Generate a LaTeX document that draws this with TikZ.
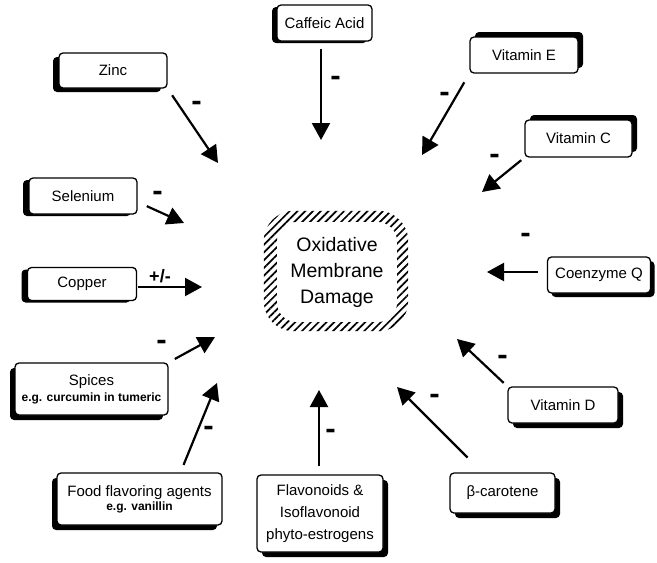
\documentclass[tikz,border=0pt]{standalone}
\usepackage{fontspec}
\usepackage{graphicx}
\setmainfont{Liberation Sans}
\usetikzlibrary{arrows.meta,shadows,patterns.meta,calc}

\newcommand\egfont{\bfseries\fontsize{12}{14}\selectfont}

\begin{document}
\begin{tikzpicture}[x=1pt,y=-1pt,
    box/.style={draw, line width=1.3pt, rounded corners=4pt, fill=white, inner sep=2pt,
      align=center, font=\fontsize{15}{17}\selectfont},
    shd/.style 2 args={drop shadow={shadow xshift=#1,shadow yshift=#2,fill=black,opacity=1}},
    arr/.style={line width=2.2pt, -{Triangle[length=17pt,width=18pt]}},
    minus/.style={font=\bfseries\fontsize{16}{16}\selectfont, inner sep=0pt}]
    \useasboundingbox (0,0) rectangle (657,563);

    % centre
    \node[align=center, minimum width=120pt, minimum height=100pt,
      font=\fontsize{19.5}{26}\selectfont] (damage) at (337,272) {Oxidative\\Membrane\\Damage};
    \fill[pattern={Lines[angle=45,distance=5.5pt,line width=1.7pt]}, even odd rule]
      [rounded corners=30pt] ($(damage.south west)+(-13,9)$) rectangle ($(damage.north east)+(11,-11)$)
      [rounded corners=20pt] (damage.south west) rectangle (damage.north east);

    % boxes
    \node[box, shd={-5pt}{-2pt}, minimum width=95pt, minimum height=36pt] (caffeic) at (324.5,23) {Caffeic Acid};
    \node[box, shd={-6pt}{-4pt}, minimum width=108pt, minimum height=35pt] (zinc) at (113,70.5) {Zinc};
    \node[box, shd={-6pt}{-2pt}, minimum width=108pt, minimum height=36pt] (selenium) at (83,196) {Selenium};
    \node[box, shd={-6pt}{-2pt}, minimum width=109pt, minimum height=33pt] (copper) at (82,284) {Copper};
    \node[box, shd={-5pt}{-5pt}, minimum width=153pt, minimum height=52pt] (spices) at (91.5,389)
      {Spices\\[-1pt]{\egfont e.g. curcumin in tumeric}};
    \node[box, shd={-5pt}{-5pt}, minimum width=165pt, minimum height=52pt] (food) at (139.5,499)
      {Food flavoring agents\\[-3pt]{\egfont e.g. vanillin}};
    \node[box, shd={5pt}{-5pt}, minimum width=126pt, minimum height=77pt,
      font=\fontsize{15}{22}\selectfont] (flav) at (320,513.5) {Flavonoids \&\\Isoflavonoid\\phyto-estrogens};
    \node[box, shd={5pt}{-5pt}, minimum width=105pt, minimum height=40pt] (beta) at (502.5,493) {β-carotene};
    \node[box, shd={5pt}{-5pt}, minimum width=110pt, minimum height=36pt] (vitD) at (563,405) {Vitamin D};
    \node[box, shd={4pt}{-4pt}, minimum width=103pt, minimum height=36pt] (coQ) at (599,275) {Coenzyme Q};
    \node[box, shd={5pt}{5pt}, minimum width=107pt, minimum height=37pt] (vitC) at (578.5,138.5) {Vitamin C};
    \node[box, shd={5pt}{5pt}, minimum width=108pt, minimum height=36pt] (vitE) at (524,55) {Vitamin E};

    % arrow tips
    \coordinate (cafT) at (321,140);
    \coordinate (zincT) at (218,163);
    \coordinate (selT) at (184,223);
    \coordinate (copT) at (202,287);
    \coordinate (spiT) at (215,337);
    \coordinate (foodT) at (217,383);
    \coordinate (flavT) at (319,390);
    \coordinate (betaT) at (397,387);
    \coordinate (vitDT) at (457,339);
    \coordinate (coqT) at (487,272);
    \coordinate (vitCT) at (482,192);
    \coordinate (vitET) at (422,155);

    \draw[arr, shorten <=7pt] (caffeic.south -| cafT) -- (cafT);
    \draw[arr, shorten <=8pt] (zinc.south east) -- (zincT);
    \draw[arr, shorten <=10pt] ([yshift=-6pt]selenium.east) -- (selT);
    \draw[arr, shorten <=1pt] (copper.east |- copT) -- (copT);
    \draw[arr, shorten <=7pt] (spices.north east) -- (spiT);
    \draw[arr, shorten <=8pt] ([xshift=41pt]food.north) -- (foodT);
    \draw[arr, shorten <=8pt] (flav.north -| flavT) -- (flavT);
    \draw[arr, shorten <=21pt] ([xshift=33pt]beta.north west) -- (betaT);
    \draw[arr, shorten <=5pt] (vitD.north west) -- (vitDT);
    \draw[arr, shorten <=9pt] (coQ.west |- coqT) -- (coqT);
    \draw[arr, shorten <=4pt] (vitC.south west) -- (vitCT);
    \draw[arr, shorten <=10pt] (vitE.south west) -- (vitET);

    % signs
    \node[minus] (mCaf) at (336,82) {\scalebox{1}[2.2]{--}};
    \node[minus] (mZinc) at (197,107) {\scalebox{1}[2.2]{--}};
    \node[minus] (mSel) at (158,197) {\scalebox{1}[2.2]{--}};
    \node[font=\bfseries\fontsize{18}{18}\selectfont, inner sep=0pt] (pmCop) at (160,276) {+/-};
    \node[minus] (mSpi) at (162,346) {\scalebox{1}[2.2]{--}};
    \node[minus] (mFood) at (209,432) {\scalebox{1}[2.2]{--}};
    \node[minus] (mFlav) at (331,435) {\scalebox{1}[2.2]{--}};
    \node[minus] (mBeta) at (435,400) {\scalebox{1}[2.2]{--}};
    \node[minus] (mVitD) at (503,361) {\scalebox{1}[2.2]{--}};
    \node[minus] (mCoQ) at (526,239) {\scalebox{1}[2.2]{--}};
    \node[minus] (mVitC) at (495,160) {\scalebox{1}[2.2]{--}};
    \node[minus] (mVitE) at (445,98) {\scalebox{1}[2.2]{--}};
\end{tikzpicture}
\end{document}
